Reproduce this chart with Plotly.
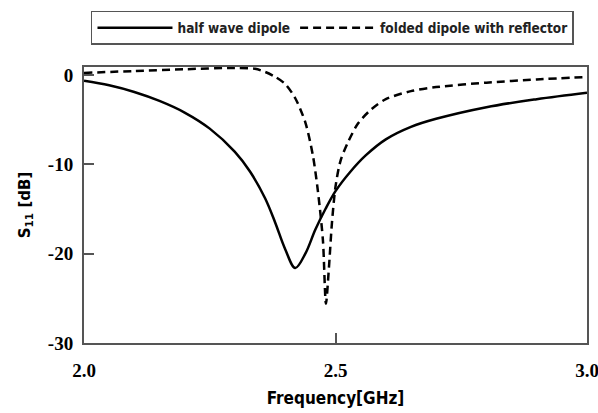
import plotly.graph_objects as go

# half wave dipole (solid)
f_half = [2.00, 2.05, 2.10, 2.15, 2.20, 2.25, 2.30, 2.33, 2.36, 2.38, 2.40, 2.42,
          2.44, 2.46, 2.48, 2.50, 2.53, 2.56, 2.60, 2.65, 2.70, 2.80, 2.90, 3.00]
s_half = [-0.65, -1.15, -1.9, -2.9, -4.2, -6.0, -8.6, -10.8, -13.8, -16.5, -19.5, -21.6,
          -20.0, -17.3, -15.0, -13.0, -10.8, -9.0, -7.2, -5.8, -4.9, -3.6, -2.7, -1.98]

# folded dipole with reflector (dashed)
f_fold = [2.00, 2.10, 2.20, 2.30, 2.34, 2.36, 2.38, 2.40, 2.42, 2.44, 2.455, 2.465,
          2.475, 2.481, 2.487, 2.493, 2.500, 2.510, 2.525, 2.545, 2.57, 2.60, 2.65,
          2.70, 2.80, 2.90, 3.00]
s_fold = [0.24, 0.45, 0.65, 0.8, 0.7, 0.35, -0.2, -1.0, -2.6, -5.3, -9.0, -13.0,
          -18.5, -25.6, -21.5, -16.5, -12.5, -9.6, -7.5, -5.4, -3.9, -2.7, -1.8,
          -1.35, -0.85, -0.5, -0.21]

x_ticks = [2.0, 2.5, 3.0]
x_labels = ["2.0", "2.5", "3.0"]
y_ticks = [0, -10, -20, -30]
y_labels = ["0", "-10", "-20", "-30"]

fig = go.Figure()
fig.add_trace(go.Scatter(x=f_half, y=s_half, mode="lines", name="half wave dipole",
                         line=dict(color="black", width=2.5, shape="spline", smoothing=1.0)))
fig.add_trace(go.Scatter(x=f_fold, y=s_fold, mode="lines", name="folded dipole with reflector",
                         line=dict(color="black", width=2.5, dash="8px,5px",
                                   shape="spline", smoothing=0.8)))

tickfont = dict(family="Liberation Serif", size=19, color="black", weight="bold")
sans_c = "DejaVu Sans Condensed, Liberation Sans, sans-serif"

fig.update_layout(
    width=598, height=413,
    margin=dict(l=84, r=11, t=64, b=70),
    paper_bgcolor="white", plot_bgcolor="white",
    showlegend=True,
    legend=dict(orientation="h", x=0.494, xanchor="center", y=1.08, yanchor="bottom",
                bordercolor="#555555", borderwidth=1.5,
                font=dict(family=sans_c, size=13.5, color="#222222", weight="bold"),
                itemwidth=75, traceorder="normal"),
    xaxis=dict(range=[2.0, 3.0], tickvals=x_ticks, ticktext=x_labels, automargin=False,
               ticklabeloverflow="allow",
               ticks="inside", ticklen=10, tickwidth=1.5, tickcolor="#555555",
               showline=True, linecolor="#555555", linewidth=2, mirror=True,
               showgrid=False, zeroline=False, tickfont=tickfont, ticklabelstandoff=9,
               title=dict(text="Frequency[GHz]", standoff=12,
                          font=dict(family=sans_c, size=17, color="black",
                                    weight="bold"))),
    yaxis=dict(range=[-30, 0.9], tickvals=y_ticks, ticktext=y_labels, automargin=False,
               ticklabeloverflow="allow",
               ticks="inside", ticklen=10, tickwidth=1.5, tickcolor="#555555",
               showline=True, linecolor="#555555", linewidth=2, mirror=True,
               showgrid=False, zeroline=False, tickfont=tickfont, ticklabelstandoff=5,
               title=dict(text="S<sub>11</sub> [dB]", standoff=14,
                          font=dict(family="DejaVu Sans", size=15, color="black",
                                    weight="bold"))),
)

fig.write_html("out.html")
